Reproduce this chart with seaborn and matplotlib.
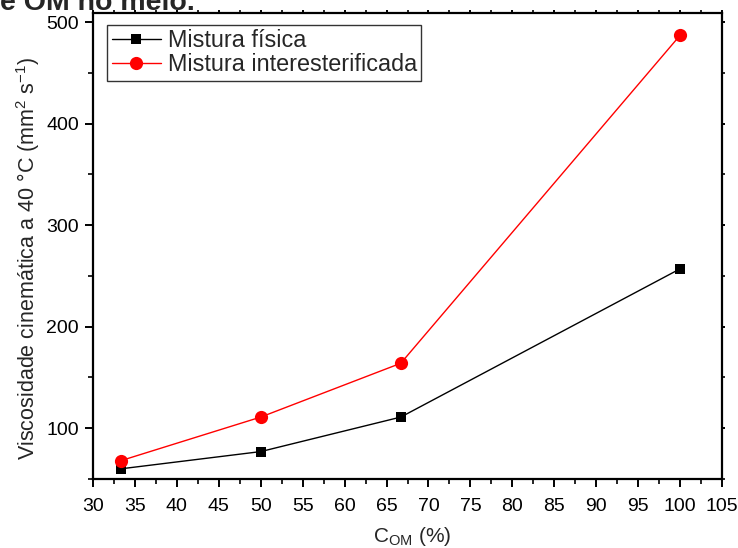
import matplotlib
matplotlib.use("Agg")
import matplotlib.pyplot as plt
import seaborn as sns
import pandas as pd
from matplotlib.ticker import MultipleLocator
from matplotlib.lines import Line2D

# Oil-mixture content (%) and kinematic viscosity at 40 °C (mm² s⁻¹)
c_om = [33.3, 50.0, 66.7, 100.0]
visc_fisica = [60, 77, 111, 257]
visc_inter = [68, 111, 164, 487]
series_names = ["Mistura física", "Mistura interesterificada"]

sns.set_theme(style="ticks")
plt.rcParams["font.family"] = ["Liberation Sans", "DejaVu Sans"]

df = pd.DataFrame({
    "C_OM": c_om * 2,
    "visc": visc_fisica + visc_inter,
    "serie": [series_names[0]] * len(c_om) + [series_names[1]] * len(c_om),
})

fig = plt.figure(figsize=(7.38, 5.48), dpi=100)
ax = fig.add_axes([93 / 738, 1 - 479 / 548, 629 / 738, 466 / 548])

palette = {series_names[0]: "black", series_names[1]: "red"}
markers = {series_names[0]: "s", series_names[1]: "o"}
sizes = {series_names[0]: 7.5, series_names[1]: 9.5}

for name in series_names:
    sub = df[df["serie"] == name]
    sns.lineplot(data=sub, x="C_OM", y="visc", ax=ax, color=palette[name],
                 marker=markers[name], markersize=sizes[name],
                 markeredgewidth=0, linewidth=1.0, legend=False)

ax.set_xlim(30, 105)
ax.set_ylim(50, 509)
ax.xaxis.set_major_locator(MultipleLocator(5))
ax.xaxis.set_minor_locator(MultipleLocator(2.5))
ax.yaxis.set_major_locator(MultipleLocator(100))
ax.yaxis.set_minor_locator(MultipleLocator(50))
ax.set_yticks([100, 200, 300, 400, 500])

for s in ax.spines.values():
    s.set_linewidth(1.6)
    s.set_color("black")

ax.tick_params(axis="both", which="major", direction="out", length=6, width=1.4,
               labelsize=14, colors="black")
ax.tick_params(axis="x", which="major", pad=8)
ax.tick_params(axis="y", which="major", pad=4)
ax.tick_params(axis="both", which="minor", direction="out", length=3.5, width=1.2,
               colors="black")
ax.tick_params(top=True, right=True, which="both")
# mirrored ticks on the top and right spines are very short
for t in ax.xaxis.get_major_ticks() + ax.xaxis.get_minor_ticks():
    t.tick2line.set_markersize(2)
for t in ax.yaxis.get_major_ticks() + ax.yaxis.get_minor_ticks():
    t.tick2line.set_markersize(2)

ax.set_xlabel(r"C$_{\mathregular{OM}}$ (%)", fontsize=15)
ax.xaxis.set_label_coords((412 - 93) / 629, -(525 - 479) / 466, transform=ax.transAxes)
ax.set_ylabel(r"Viscosidade cinemática a 40 °C (mm$^{\mathregular{2}}$ s$^{\mathregular{-1}}$)",
              fontsize=15.5)
ax.yaxis.set_label_coords(-(93 - 28) / 629, (479 - 258) / 466, transform=ax.transAxes)
ax.yaxis.label.set_va("center")

handles = [
    Line2D([], [], color="black", marker="s", markersize=7.5, markeredgewidth=0, linewidth=1.0),
    Line2D([], [], color="red", marker="o", markersize=9.5, markeredgewidth=0, linewidth=1.0),
]
leg = ax.legend(handles, series_names, loc="upper left", bbox_to_anchor=(0.022, 0.975),
                fontsize=16.8, frameon=True, fancybox=False, handlelength=2.1,
                handletextpad=0.3, borderpad=0.2, labelspacing=0.05, borderaxespad=0)
leg.get_frame().set_edgecolor("black")
leg.get_frame().set_linewidth(1.0)

fig.text(0.0, 1 - 10 / 548, "e OM no meio.", fontsize=20.5, fontweight="bold",
         ha="left", va="baseline")

fig.savefig("out.png", dpi=100, facecolor="white")
